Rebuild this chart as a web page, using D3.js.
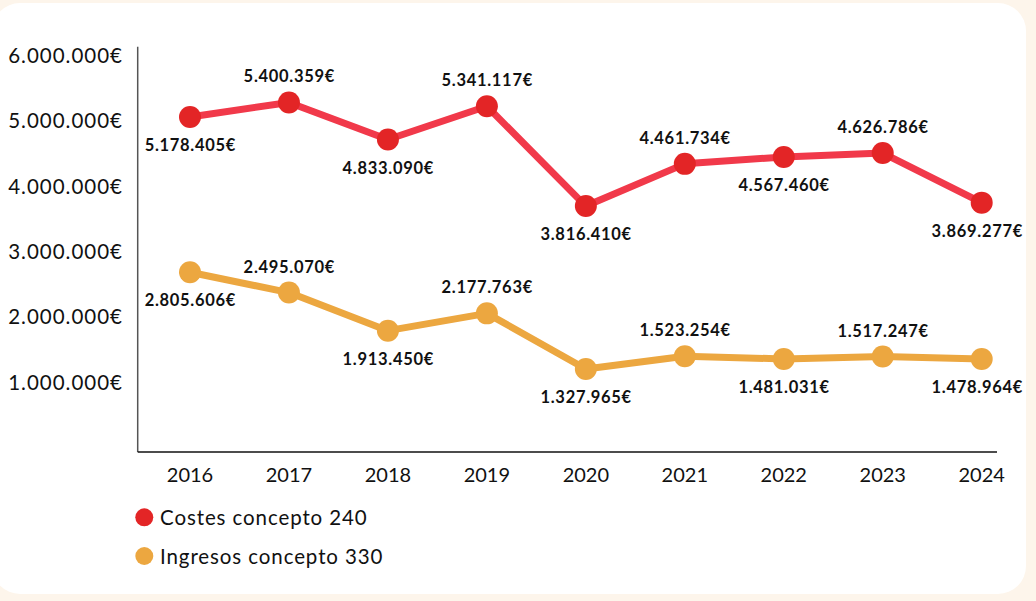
<!DOCTYPE html>
<html>
<head>
<meta charset="utf-8">
<script src="https://cdn.jsdelivr.net/npm/d3@7"></script>
<style>
  html, body { margin: 0; padding: 0; background: #fdf5eb; }
  svg { display: block; }
  text { font-family: Lato, "Open Sans", sans-serif; fill: #111; }
</style>
</head>
<body>
<svg id="chart" width="1036" height="601"></svg>
<script>
const years = ["2016","2017","2018","2019","2020","2021","2022","2023","2024"];
const costes = [5178405, 5400359, 4833090, 5341117, 3816410, 4461734, 4567460, 4626786, 3869277];
const ingresos = [2805606, 2495070, 1913450, 2177763, 1327965, 1523254, 1481031, 1517247, 1478964];
const yTicks = [1000000, 2000000, 3000000, 4000000, 5000000, 6000000];
const seriesNames = ["Costes concepto 240", "Ingresos concepto 330"];

const fmt = v => d3.format(",")(v).replace(/,/g, ".") + "€";

const svg = d3.select("#chart");
svg.append("rect").attr("x", -8).attr("y", 3).attr("width", 1034).attr("height", 591)
  .attr("rx", 28).attr("fill", "#ffffff");

const x = d3.scalePoint().domain(years).range([190, 981.7]);
const y = d3.scaleLinear().domain([0, 6250000]).range([455.9, 46.8]);

const axisX0 = 137.7, axisRight = 997, baseY = 452, labelMaxRight = 1023;

// axes lines
svg.append("line").attr("x1", axisX0).attr("x2", axisX0).attr("y1", y(6250000)).attr("y2", baseY)
  .attr("stroke", "#555").attr("stroke-width", 1.5);
svg.append("line").attr("x1", axisX0).attr("x2", axisRight).attr("y1", baseY).attr("y2", baseY)
  .attr("stroke", "#111").attr("stroke-width", 1.5);

// y tick labels
svg.append("g").selectAll("text").data(yTicks).join("text")
  .attr("x", 123).attr("y", d => y(d) - 0.5)
  .attr("text-anchor", "end").attr("font-size", 20.5).attr("letter-spacing", 1)
  .text(d => fmt(d));

// x tick labels
svg.append("g").selectAll("text").data(years).join("text")
  .attr("x", d => x(d)).attr("y", 481.5)
  .attr("text-anchor", "middle").attr("font-size", 20)
  .text(d => d);

const series = [
  { name: seriesNames[0], values: costes, line: "#f1394a", dot: "#e32526" },
  { name: seriesNames[1], values: ingresos, line: "#eca740", dot: "#eca740" }
];

const lineGen = d3.line().x((d, i) => x(years[i])).y(d => y(d));

series.forEach(s => {
  svg.append("path").datum(s.values).attr("d", lineGen)
    .attr("fill", "none").attr("stroke", s.line).attr("stroke-width", 7)
    .attr("stroke-linejoin", "round");
  svg.append("g").selectAll("circle").data(s.values).join("circle")
    .attr("cx", (d, i) => x(years[i])).attr("cy", d => y(d)).attr("r", 11)
    .attr("fill", s.dot);
  svg.append("g").selectAll("text").data(s.values).join("text")
    .attr("x", (d, i) => x(years[i]) + 0.35)
    .attr("y", (d, i) => y(d) + (i % 2 === 0 ? 34 : -20))
    .attr("text-anchor", "middle").attr("font-size", 16.5).attr("font-weight", 700)
    .attr("letter-spacing", 0.7)
    .text(d => fmt(d))
    .each(function() {
      const b = this.getBBox();
      const over = b.x + b.width - labelMaxRight;
      if (over > 0) d3.select(this).attr("x", +d3.select(this).attr("x") - over);
    });
});

// legend
const legend = svg.append("g");
series.forEach((s, i) => {
  const cy = 517.3 + i * 38.7;
  legend.append("circle").attr("cx", 144.3).attr("cy", cy).attr("r", 9).attr("fill", s.dot);
  legend.append("text").attr("x", 160).attr("y", cy + 7.5).attr("font-size", 20.5)
    .attr("letter-spacing", 0.9).text(s.name);
});
</script>
</body>
</html>
